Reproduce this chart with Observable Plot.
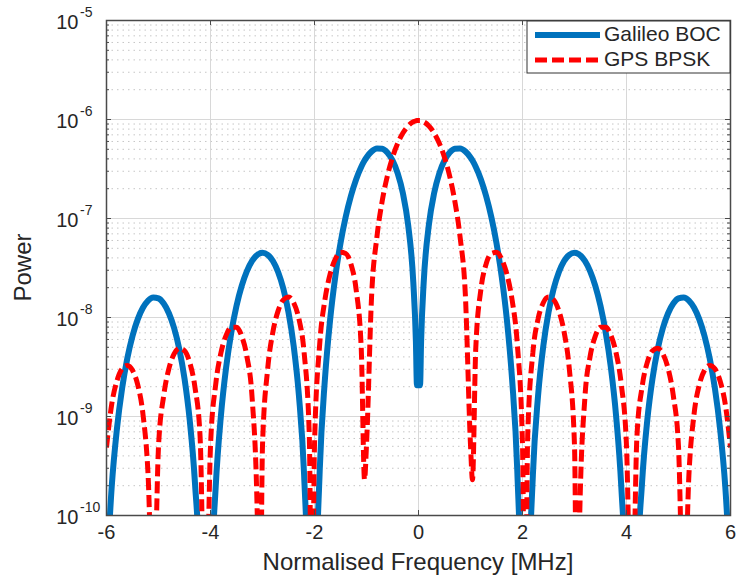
<!DOCTYPE html>
<html>
<head>
<meta charset="utf-8">
<script src="https://cdn.jsdelivr.net/npm/d3@7"></script>
<script src="https://cdn.jsdelivr.net/npm/@observablehq/plot@0.6"></script>
<style>
  body { margin: 0; background: #fff; }
  #chart { width: 738px; height: 585px; }
</style>
</head>
<body>
<div id="chart"></div>
<script>
// ---- data ----
const freqs = [
  -6.0, -5.9, -5.8, -5.7, -5.6, -5.5, -5.4, -5.3, -5.2, -5.1, -5.0,
  -4.9, -4.8, -4.7, -4.6, -4.5, -4.4, -4.3, -4.2, -4.1, -4.0,
  -3.9, -3.8, -3.7, -3.6, -3.5, -3.4, -3.3, -3.2, -3.1, -3.07, -3.0,
  -2.9, -2.8, -2.7, -2.6, -2.5, -2.4, -2.3, -2.2, -2.1, -2.05, -2.0,
  -1.9, -1.8, -1.7, -1.6, -1.5, -1.4, -1.3, -1.2, -1.1, -1.038, -1.0,
  -0.9, -0.8, -0.7, -0.6, -0.5, -0.4, -0.3, -0.2, -0.1, -0.05, -0.03,
  0.03, 0.05, 0.1, 0.2, 0.3, 0.4, 0.5, 0.6, 0.7, 0.8, 0.9,
  1.0, 1.038, 1.1, 1.2, 1.3, 1.4, 1.5, 1.6, 1.7, 1.8, 1.9,
  2.0, 2.05, 2.1, 2.2, 2.3, 2.4, 2.5, 2.6, 2.7, 2.8, 2.9,
  3.0, 3.07, 3.1, 3.2, 3.3, 3.4, 3.5, 3.6, 3.7, 3.8, 3.9,
  4.0, 4.1, 4.2, 4.3, 4.4, 4.5, 4.6, 4.7, 4.8, 4.9,
  5.0, 5.1, 5.2, 5.3, 5.4, 5.5, 5.6, 5.7, 5.8, 5.9, 6.0
];
const bocPower = [
  2.254e-11, 1.943e-10, 7.461e-10, 1.922e-9, 3.865e-9, 6.514e-9, 9.570e-9, 1.253e-8, 1.482e-8, 1.592e-8, 1.558e-8,
  1.383e-8, 1.105e-8, 7.833e-9, 4.794e-9, 2.419e-9, 9.218e-10, 2.179e-10, 1.745e-11, 5.6e-16, 1.019e-11,
  1.943e-10, 1.014e-9, 3.113e-9, 7.069e-9, 1.311e-8, 2.089e-8, 2.944e-8, 3.732e-8, 4.295e-8, 4.399e-8, 4.504e-8,
  4.302e-8, 3.722e-8, 2.882e-8, 1.958e-8, 1.127e-8, 5.150e-9, 1.638e-9, 2.58e-10, 4.42e-12, 1.4e-16, 2.572e-12,
  2.805e-10, 2.368e-9, 9.452e-9, 2.593e-8, 5.633e-8, 1.039e-7, 1.689e-7, 2.479e-7, 3.332e-7, 3.844e-7, 4.136e-7,
  4.764e-7, 5.100e-7, 5.063e-7, 4.633e-7, 3.859e-7, 2.858e-7, 1.799e-7, 8.656e-8, 2.269e-8, 5.74e-9, 2.07e-9,
  2.07e-9, 5.74e-9, 2.269e-8, 8.656e-8, 1.799e-7, 2.858e-7, 3.859e-7, 4.633e-7, 5.063e-7, 5.100e-7, 4.764e-7,
  4.136e-7, 3.844e-7, 3.332e-7, 2.479e-7, 1.689e-7, 1.039e-7, 5.633e-8, 2.593e-8, 9.452e-9, 2.368e-9, 2.805e-10,
  2.572e-12, 1.4e-16, 4.42e-12, 2.58e-10, 1.638e-9, 5.150e-9, 1.127e-8, 1.958e-8, 2.882e-8, 3.722e-8, 4.302e-8,
  4.504e-8, 4.399e-8, 4.295e-8, 3.732e-8, 2.944e-8, 2.089e-8, 1.311e-8, 7.069e-9, 3.113e-9, 1.014e-9, 1.943e-10,
  1.019e-11, 5.6e-16, 1.745e-11, 2.179e-10, 9.218e-10, 2.419e-9, 4.794e-9, 7.833e-9, 1.105e-8, 1.383e-8,
  1.558e-8, 1.592e-8, 1.482e-8, 1.253e-8, 9.570e-9, 6.514e-9, 3.865e-9, 1.922e-9, 7.461e-10, 1.943e-10, 2.254e-11
];
const bpskPower = [
  4.869e-10, 1.327e-9, 2.283e-9, 3.031e-9, 3.283e-9, 2.935e-9, 2.095e-9, 1.068e-9, 2.553e-10, 8.458e-12, 4.960e-10,
  1.624e-9, 3.050e-9, 4.292e-9, 4.898e-9, 4.619e-9, 3.521e-9, 1.993e-9, 6.229e-10, 3.716e-12, 5.036e-10,
  2.107e-9, 4.382e-9, 6.597e-9, 7.969e-9, 7.955e-9, 6.482e-9, 4.038e-9, 1.552e-9, 9.743e-11, 1.0e-13, 5.095e-10,
  3.032e-9, 7.148e-9, 1.167e-8, 1.507e-8, 1.607e-8, 1.410e-8, 9.691e-9, 4.443e-9, 6.404e-10, 3.7e-12, 5.138e-10,
  5.396e-9, 1.504e-8, 2.737e-8, 3.887e-8, 4.555e-8, 4.436e-8, 3.466e-8, 1.925e-8, 4.701e-9, 2.3e-10, 5.163e-10,
  1.739e-8, 6.480e-8, 1.482e-7, 2.672e-7, 4.141e-7, 5.748e-7, 7.304e-7, 8.607e-7, 9.472e-7, 9.698e-7, 9.747e-7,
  9.747e-7, 9.698e-7, 9.472e-7, 8.607e-7, 7.304e-7, 5.748e-7, 4.141e-7, 2.672e-7, 1.482e-7, 6.480e-8, 1.739e-8,
  5.163e-10, 2.3e-10, 4.701e-9, 1.925e-8, 3.466e-8, 4.436e-8, 4.555e-8, 3.887e-8, 2.737e-8, 1.504e-8, 5.396e-9,
  5.138e-10, 3.7e-12, 6.404e-10, 4.443e-9, 9.691e-9, 1.410e-8, 1.607e-8, 1.507e-8, 1.167e-8, 7.148e-9, 3.032e-9,
  5.095e-10, 1.0e-13, 9.743e-11, 1.552e-9, 4.038e-9, 6.482e-9, 7.955e-9, 7.969e-9, 6.597e-9, 4.382e-9, 2.107e-9,
  5.036e-10, 3.716e-12, 6.229e-10, 1.993e-9, 3.521e-9, 4.619e-9, 4.898e-9, 4.292e-9, 3.050e-9, 1.624e-9,
  4.960e-10, 8.458e-12, 2.553e-10, 1.068e-9, 2.095e-9, 2.935e-9, 3.283e-9, 3.031e-9, 2.283e-9, 1.327e-9, 4.869e-10
];
const seriesNames = ["Galileo BOC", "GPS BPSK"];
const xTicks = [-6, -4, -2, 0, 2, 4, 6];
const yDecades = [1e-10, 1e-9, 1e-8, 1e-7, 1e-6, 1e-5];
const yTickExponents = ["-10", "-9", "-8", "-7", "-6", "-5"];
const minorMultipliers = [2, 3, 4, 5, 6, 7, 8, 9];
const xLabel = "Normalised Frequency [MHz]";
const yLabel = "Power";

// ---- build table ----
const rows = freqs.map((f, i) => ({ f, boc: bocPower[i], bpsk: bpskPower[i] }));
const minorY = yDecades.slice(0, -1).flatMap(d => minorMultipliers.map(m => m * d));

const W = 738, H = 585, mL = 106, mR = 8, mT = 20, mB = 70;
const frameW = W - mL - mR, frameH = H - mT - mB;
const axisColor = "#4a4a4a";
const textColor = "#262626";
const font = "'Liberation Sans', Arial, Helvetica, sans-serif";

const svg = Plot.plot({
  width: W, height: H,
  marginLeft: mL, marginRight: mR, marginTop: mT, marginBottom: mB,
  style: { fontFamily: font, background: "white", color: textColor },
  x: { domain: [-6, 6], axis: null },
  y: { type: "log", domain: [1e-10, 1e-5], axis: null },
  marks: [
    Plot.ruleY(minorY, { stroke: "#c6c6c6", strokeWidth: 1, strokeDasharray: "1.5,4" }),
    Plot.ruleY(yDecades, { stroke: "#d8d8d8", strokeWidth: 1 }),
    Plot.ruleX(xTicks.slice(1, -1), { stroke: "#d8d8d8", strokeWidth: 1 }),
    Plot.line(rows, { x: "f", y: "boc", stroke: "#0072BD", strokeWidth: 6, curve: "monotone-x",
      clip: true, strokeLinejoin: "miter", strokeLinecap: "butt" }),
    Plot.line(rows, { x: "f", y: "bpsk", stroke: "#ff0000", strokeWidth: 5, strokeDasharray: "12,5",
      curve: "monotone-x", clip: true, strokeLinejoin: "miter", strokeLinecap: "butt" }),
    Plot.frame({ stroke: axisColor, strokeWidth: 1.5 }),
    Plot.tickX(xTicks, { x: d => d, insetTop: frameH - 5, stroke: axisColor }),
    Plot.tickX(xTicks, { x: d => d, insetBottom: frameH - 5, stroke: axisColor }),
    Plot.tickY(yDecades, { y: d => d, insetRight: frameW - 5, stroke: axisColor }),
    Plot.tickY(yDecades, { y: d => d, insetLeft: frameW - 5, stroke: axisColor }),
    Plot.tickY(minorY, { y: d => d, insetRight: frameW - 3, stroke: axisColor }),
    Plot.tickY(minorY, { y: d => d, insetLeft: frameW - 3, stroke: axisColor }),
    Plot.text(xTicks, { x: d => d, frameAnchor: "bottom", dy: 23, text: d => String(d),
      fontSize: 20, fill: textColor }),
    Plot.text(yDecades, { y: d => d, frameAnchor: "left", dx: -28, dy: 2, textAnchor: "end",
      text: () => "10", fontSize: 20, fill: textColor }),
    Plot.text(yDecades, { y: d => d, frameAnchor: "left", dx: -26.5, dy: -8, textAnchor: "start",
      text: (d, i) => yTickExponents[i], fontSize: 14, fill: textColor })
  ]
});

document.getElementById("chart").appendChild(svg);

// ---- axis labels and legend ----
const s = d3.select(svg);
s.append("text")
  .attr("transform", `translate(25,${mT + frameH / 2}) rotate(-90)`)
  .attr("text-anchor", "middle").attr("dominant-baseline", "middle")
  .attr("font-size", 24).attr("font-family", font).attr("fill", textColor)
  .text(yLabel);
s.append("text")
  .attr("x", mL + frameW / 2).attr("y", 564)
  .attr("text-anchor", "middle").attr("dominant-baseline", "middle")
  .attr("font-size", 24).attr("font-family", font).attr("fill", textColor)
  .text(xLabel);

const lg = s.append("g");
lg.append("rect").attr("x", 527).attr("y", 21).attr("width", 203).attr("height", 52)
  .attr("fill", "white").attr("stroke", "#333").attr("stroke-width", 1);
const legendStyles = [
  { stroke: "#0072BD", width: 6, dash: null, y: 35 },
  { stroke: "#ff0000", width: 5, dash: "12,5", y: 60 }
];
seriesNames.forEach((name, i) => {
  const st = legendStyles[i];
  const ln = lg.append("line").attr("x1", 535).attr("x2", 600).attr("y1", st.y).attr("y2", st.y)
    .attr("stroke", st.stroke).attr("stroke-width", st.width);
  if (st.dash) ln.attr("stroke-dasharray", st.dash);
  lg.append("text").attr("x", 604).attr("y", st.y)
    .attr("text-anchor", "start")
    .attr("dominant-baseline", "middle").attr("font-size", 21).attr("font-family", font)
    .attr("fill", textColor).text(name);
});
</script>
</body>
</html>
